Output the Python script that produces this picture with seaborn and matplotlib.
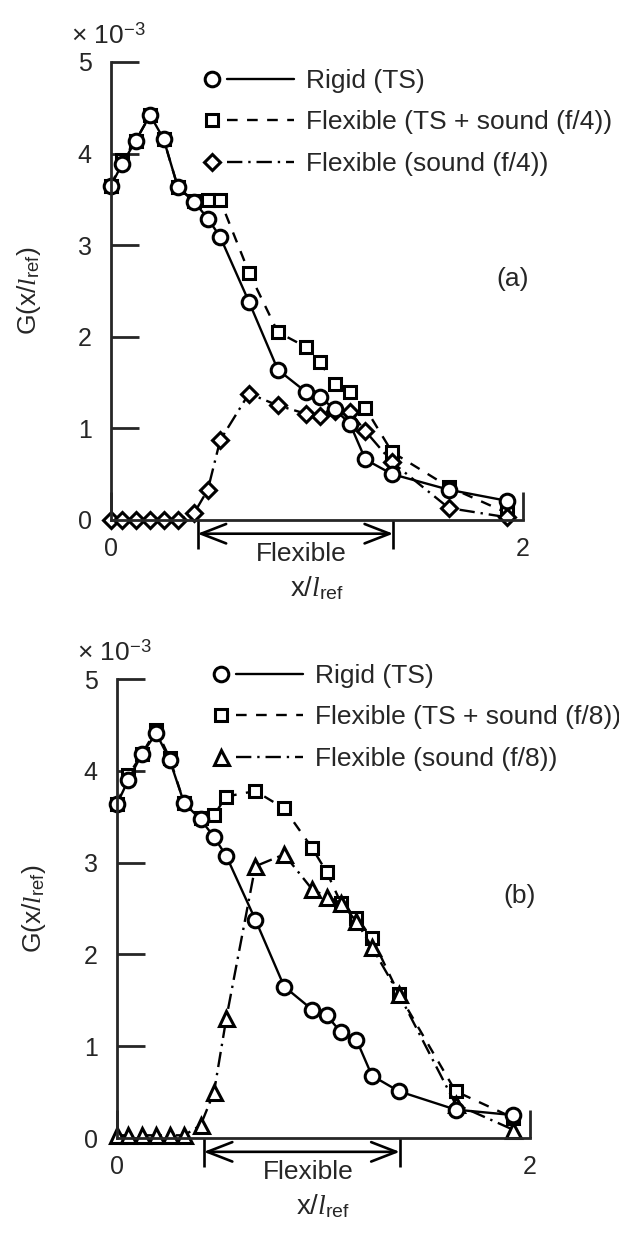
# %%
import numpy as np
import matplotlib
matplotlib.use('Agg')
import matplotlib.pyplot as plt
import seaborn as sns
from matplotlib.lines import Line2D
from matplotlib.legend_handler import HandlerLine2D

# %%
# measured positions along the plate, shared by every series
x_pos = [0, 0.055, 0.12, 0.19, 0.255, 0.325, 0.405, 0.47, 0.53, 0.67,
         0.81, 0.945, 1.015, 1.085, 1.16, 1.235, 1.365, 1.64, 1.92]

# panel (a), forcing f/4
rigid_a = [3.65, 3.89, 4.14, 4.42, 4.16, 3.63, 3.47, 3.29, 3.09, 2.38,
           1.64, 1.40, 1.34, 1.21, 1.05, 0.66, 0.50, 0.33, 0.21]
ts_sound_a = [3.65, 3.93, 4.14, 4.42, 4.16, 3.63, 3.48, 3.49, 3.49, 2.70,
              2.05, 1.89, 1.72, 1.48, 1.40, 1.22, 0.74, 0.36, 0.08]
sound_a = [0, 0, 0, 0, 0, 0, 0.08, 0.33, 0.87, 1.38,
           1.25, 1.16, 1.14, 1.19, 1.18, 0.97, 0.63, 0.13, 0.03]

# panel (b), forcing f/8
rigid_b = [3.64, 3.90, 4.18, 4.41, 4.12, 3.65, 3.47, 3.28, 3.07, 2.38,
           1.65, 1.40, 1.34, 1.15, 1.07, 0.68, 0.51, 0.31, 0.25]
ts_sound_b = [3.64, 3.95, 4.18, 4.45, 4.14, 3.65, 3.49, 3.52, 3.72, 3.78,
              3.59, 3.16, 2.90, 2.56, 2.40, 2.18, 1.57, 0.51, 0.22]
sound_b = [0.03, 0.03, 0.03, 0.03, 0.03, 0.03, 0.14, 0.50, 1.31, 2.96,
           3.09, 2.71, 2.63, 2.56, 2.36, 2.08, 1.57, 0.37, 0.09]

labels_a = ['Rigid (TS)', 'Flexible (TS + sound (f/4))', 'Flexible (sound (f/4))']
labels_b = ['Rigid (TS)', 'Flexible (TS + sound (f/8))', 'Flexible (sound (f/8))']

flex_start, flex_end = 0.42, 1.37
y_ticks = [0, 1, 2, 3, 4, 5]
x_ticks = [0, 2]

# %%
sns.set_style('ticks')
plt.rcParams['font.family'] = ['Liberation Sans', 'DejaVu Sans']
plt.rcParams['mathtext.fontset'] = 'custom'
plt.rcParams['mathtext.rm'] = 'Liberation Sans'
plt.rcParams['mathtext.it'] = 'Liberation Serif:italic'
plt.rcParams['mathtext.bf'] = 'Liberation Sans:bold'


class MarkerFirst(HandlerLine2D):
    # legend sample drawn as: marker, gap, then the line
    def create_artists(self, legend, orig_handle, xdescent, ydescent,
                       width, height, fontsize, trans):
        y = (height - ydescent) / 2
        seg = Line2D([-xdescent + 0.25 * width, -xdescent + width], [y, y])
        self.update_prop(seg, orig_handle, legend)
        seg.set_marker('')
        mk = Line2D([-xdescent + 0.08 * width], [y])
        self.update_prop(mk, orig_handle, legend)
        mk.set_linestyle('None')
        seg.set_transform(trans)
        mk.set_transform(trans)
        return [seg, mk]


common = dict(color='black', markerfacecolor='white', markeredgecolor='black',
              markeredgewidth=2.2, linewidth=1.7, clip_on=False)


def draw_panel(ax, rigid, ts_sound, sound, snd_marker, labels, tag, leg_anchor):
    sns.lineplot(x=x_pos, y=ts_sound, ax=ax, marker='s', markersize=9.2,
                 linestyle=(0, (4.5, 4.0)), **common)
    h_ts = ax.lines[-1]
    sns.lineplot(x=x_pos, y=sound, ax=ax, marker=snd_marker,
                 markersize=8.2 if snd_marker == 'D' else 10.8,
                 linestyle=(0, (6.5, 2.5, 1.0, 2.5)), **common)
    h_snd = ax.lines[-1]
    sns.lineplot(x=x_pos, y=rigid, ax=ax, marker='o', markersize=10.5,
                 linestyle='-', **common)
    h_rig = ax.lines[-1]

    ax.set_xlim(0, 2)
    ax.set_ylim(0, 5)
    sns.despine(ax=ax)
    for s in ('left', 'bottom'):
        ax.spines[s].set_linewidth(2.0)
    ax.set_xticks(x_ticks)
    ax.set_xticklabels([str(v) for v in x_ticks])
    ax.set_yticks(y_ticks)
    ax.set_yticklabels([str(v) for v in y_ticks])
    ax.tick_params(direction='in', length=20, width=2.0, labelsize=18)
    ax.tick_params(axis='y', pad=14)
    ax.tick_params(axis='x', pad=12)
    ax.set_xlabel('')
    ax.set_ylabel('')

    ax.text(-0.098, 1.04, r'× 10$^{-3}$', transform=ax.transAxes,
            fontsize=19, ha='left', va='baseline')
    ax.text(-0.2, 0.5, r'G(x/$\mathit{l}_{\mathrm{ref}}$)', transform=ax.transAxes,
            rotation=90, fontsize=19, ha='center', va='center')
    ax.text(0.5, -0.148, r'x/$\mathit{l}_{\mathrm{ref}}$', transform=ax.transAxes,
            fontsize=20, ha='center', va='center')
    ax.text(0.976, 0.527, tag, transform=ax.transAxes, fontsize=19,
            ha='center', va='center')

    # "Flexible" span marker under the axis
    tr = ax.get_xaxis_transform()
    ax.vlines([flex_start, flex_end], 0, -0.064, transform=tr, colors='black',
              linewidth=1.9, clip_on=False)
    ax.annotate('', xy=(flex_end, -0.03), xytext=(flex_start, -0.03), xycoords=tr,
                textcoords=tr, annotation_clip=False,
                arrowprops=dict(arrowstyle='<->,head_length=0.9,head_width=0.35',
                                mutation_scale=20, lw=1.9, color='black',
                                shrinkA=0, shrinkB=0))
    ax.text((flex_start + flex_end) / 2 + 0.03, -0.074, 'Flexible', transform=tr,
            fontsize=19, ha='center', va='center')

    ax.legend(handles=[h_rig, h_ts, h_snd], labels=labels, loc='upper left',
              bbox_to_anchor=leg_anchor, bbox_transform=ax.figure.transFigure,
              frameon=False, fontsize=19, handlelength=3.37, handletextpad=0.45,
              labelspacing=0.66, borderpad=0, borderaxespad=0,
              handler_map={Line2D: MarkerFirst()})


# %%
fig = plt.figure(figsize=(6.19, 12.33), dpi=100)
ax_a = fig.add_axes([0.1793, 0.5783, 0.6656, 0.3715])
ax_b = fig.add_axes([0.189, 0.077, 0.667, 0.3723])

draw_panel(ax_a, rigid_a, ts_sound_a, sound_a, 'D', labels_a, '(a)',
           (205 / 619, 1 - 69 / 1233))
draw_panel(ax_b, rigid_b, ts_sound_b, sound_b, '^', labels_b, '(b)',
           (214 / 619, 1 - 664 / 1233))

fig.savefig('out.png', dpi=100)
